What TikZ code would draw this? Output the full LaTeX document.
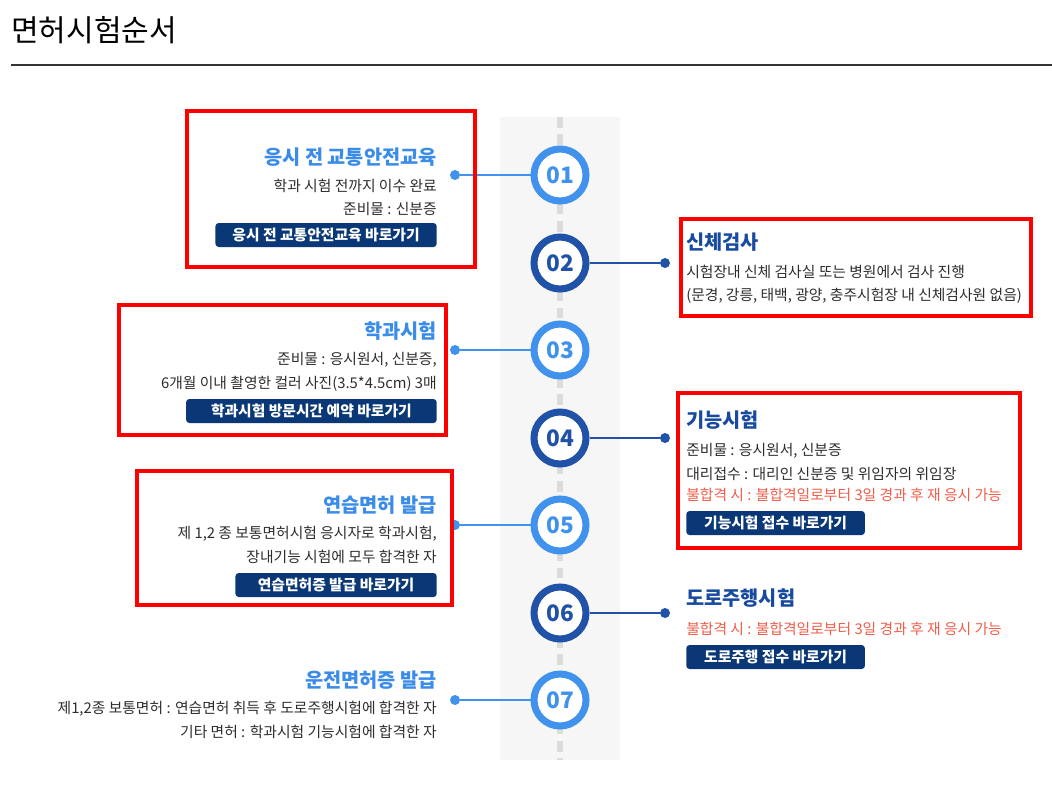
\documentclass[tikz,border=0pt]{standalone}
\usepackage{fontspec}
\setmainfont{Noto Sans CJK KR}
\definecolor{stepblue}{RGB}{64,146,236}
\definecolor{stepnavy}{RGB}{32,82,168}
\definecolor{titleblue}{RGB}{58,140,232}
\definecolor{titlenavy}{RGB}{24,74,160}
\definecolor{btnnavy}{RGB}{10,56,118}
\definecolor{failred}{RGB}{240,92,72}
\definecolor{bodygray}{RGB}{45,45,45}
\definecolor{stripgray}{RGB}{246,246,246}
\definecolor{dashgray}{RGB}{220,220,220}
\usetikzlibrary{positioning}

\begin{document}
\begin{tikzpicture}[x=0.75pt, y=-0.75pt,
    lefttitle/.style={anchor=east, inner sep=0, text=titleblue, font=\fontsize{14.8}{17}\selectfont\bfseries},
    righttitle/.style={anchor=west, inner sep=0, text=titlenavy, font=\fontsize{14.8}{17}\selectfont\bfseries},
    lefttext/.style={anchor=east, inner sep=0, text=bodygray, font=\fontsize{11.1}{13}\selectfont},
    righttext/.style={anchor=west, inner sep=0, text=bodygray, font=\fontsize{11.1}{13}\selectfont},
    failtext/.style={righttext, text=failred},
    button/.style={fill=btnnavy, rounded corners=2.5pt, text=white, inner xsep=11.5pt,
                   minimum height=18pt, inner ysep=0, font=\fontsize{11.1}{13}\selectfont\bfseries},
    oddstep/.style={circle, draw=stepblue, line width=5.25pt, fill=white, minimum size=39pt,
                    text=stepblue, font=\fontsize{17}{20}\selectfont\bfseries},
    evenstep/.style={oddstep, draw=stepnavy, text=stepnavy},
    dot/.style={circle, inner sep=0, minimum size=7.5pt},
    link/.style={line width=1.6pt},
    mark box/.style={draw=red, line width=3pt}]

\useasboundingbox (0,0) rectangle (1052,794);

% heading
\node[anchor=west, inner sep=0, font=\fontsize{22.5}{26}\selectfont] (heading) at (11,30) {면허시험순서};
\draw[line width=1.5pt, black!80] (11,65) -- (1052,65);

% timeline strip
\fill[stripgray] (500,117) rectangle (620,760);
\draw[dashgray, line width=4pt, dash pattern=on 8pt off 5pt] (560,117) -- (560,760);

% steps
\node[oddstep] (s1) at (560,175) {01};
\node[evenstep] (s2) at (560,263) {02};
\node[oddstep] (s3) at (560,350) {03};
\node[evenstep] (s4) at (560,438) {04};
\node[oddstep] (s5) at (560,525) {05};
\node[evenstep] (s6) at (560,613) {06};
\node[oddstep] (s7) at (560,700) {07};

% dots and links
\node[dot, fill=stepblue] (d1) at (455,175) {};
\node[dot, fill=stepnavy] (d2) at (665,263) {};
\node[dot, fill=stepblue] (d3) at (455,350) {};
\node[dot, fill=stepnavy] (d4) at (665,438) {};
\node[dot, fill=stepblue] (d5) at (455,525) {};
\node[dot, fill=stepnavy] (d6) at (665,613) {};
\node[dot, fill=stepblue] (d7) at (455,700) {};
\draw[link, stepblue] (d1) -- (s1);
\draw[link, stepnavy] (d2) -- (s2);
\draw[link, stepblue] (d3) -- (s3);
\draw[link, stepnavy] (d4) -- (s4);
\draw[link, stepblue] (d5) -- (s5);
\draw[link, stepnavy] (d6) -- (s6);
\draw[link, stepblue] (d7) -- (s7);

% 01
\node[lefttitle] (t1) at (437,157) {응시 전 교통안전교육};
\node[lefttext] (t1a) at (437,186) {학과 시험 전까지 이수 완료};
\node[lefttext] (t1b) at (437,209) {준비물 : 신분증};
\node[button, anchor=east, minimum width=166pt] (b1) at (437,235) {응시 전 교통안전교육 바로가기};

% 02
\node[righttitle] (t2) at (686,242) {신체검사};
\node[righttext] (t2a) at (686,272) {시험장내 신체 검사실 또는 병원에서 검사 진행};
\node[righttext] (t2b) at (686,296) {(문경, 강릉, 태백, 광양, 충주시험장 내 신체검사원 없음)};

% 03
\node[lefttitle] (t3) at (437,331) {학과시험};
\node[lefttext] (t3a) at (437,360) {준비물 : 응시원서, 신분증,};
\node[lefttext] (t3b) at (437,384) {6개월 이내 촬영한 컬러 사진(3.5*4.5cm) 3매};
\node[button, anchor=east, minimum width=188pt] (b3) at (437,411) {학과시험 방문시간 예약 바로가기};

% 04
\node[righttitle] (t4) at (686,420) {기능시험};
\node[righttext] (t4a) at (686,451) {준비물 : 응시원서, 신분증};
\node[righttext] (t4b) at (686,474) {대리접수 : 대리인 신분증 및 위임자의 위임장};
\node[failtext] (t4c) at (686,495) {불합격 시 : 불합격일로부터 3일 경과 후 재 응시 가능};
\node[button, anchor=west, minimum width=134pt] (b4) at (686,523) {기능시험 접수 바로가기};

% 05
\node[lefttitle] (t5) at (437,505) {연습면허 발급};
\node[lefttext] (t5a) at (437,534) {제 1,2 종 보통면허시험 응시자로 학과시험,};
\node[lefttext] (t5b) at (437,557) {장내기능 시험에 모두 합격한 자};
\node[button, anchor=east, minimum width=151pt] (b5) at (437,585) {연습면허증 발급 바로가기};

% 06
\node[righttitle] (t6) at (686,598) {도로주행시험};
\node[failtext] (t6a) at (686,629) {불합격 시 : 불합격일로부터 3일 경과 후 재 응시 가능};
\node[button, anchor=west, minimum width=134pt] (b6) at (686,657) {도로주행 접수 바로가기};

% 07
\node[lefttitle] (t7) at (437,680) {운전면허증 발급};
\node[lefttext] (t7a) at (437,709) {제1,2종 보통면허 : 연습면허 취득 후 도로주행시험에 합격한 자};
\node[lefttext] (t7b) at (437,732) {기타 면허 : 학과시험 기능시험에 합격한 자};

% red marks
\draw[mark box] (187,111) rectangle (475,267);
\draw[mark box] (681,219) rectangle (1031,316);
\draw[mark box] (119,305) rectangle (446,435);
\draw[mark box] (678,393) rectangle (1020,548);
\draw[mark box] (137,471) rectangle (452,605);
\end{tikzpicture}
\end{document}
